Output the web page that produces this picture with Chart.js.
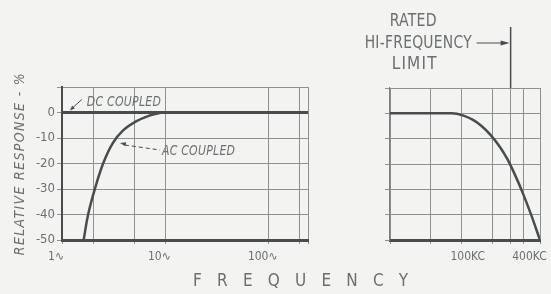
<!DOCTYPE html>
<html><head><meta charset="utf-8">
<script src="https://cdn.jsdelivr.net/npm/chart.js@4.4.1/dist/chart.umd.min.js"></script>
<style>
html,body{margin:0;padding:0;background:#f3f4f1;}
#wrap{position:relative;width:551px;height:294px;overflow:hidden;background:#f3f4f1;}
#c1{position:absolute;left:0;top:0;}
#c2{position:absolute;left:330px;top:0;}
</style></head><body>
<div id="wrap"><canvas id="c1" width="551" height="294"></canvas><canvas id="c2" width="221" height="294"></canvas></div>
<script>
// ---------- data ----------
const yTickValues = [-50, -40, -30, -20, -10, 0, 10];
const yTickLabels = ['-50', '-40', '-30', '-20', '-10', '0', ''];

const lowTickValues = [1, 2, 5, 10, 100, 200, 240];
const lowTickLabels = ['1∿', '', '', '10∿', '100∿', '', ''];

const dcFreq = [1, 240];
const dcResponse = [0, 0];

const acFreq = [1.62, 1.79, 2.08, 2.5, 3.1, 3.9, 5.2, 7.0, 9.0, 10];
const acResponse = [-50, -40, -30, -20, -12, -7, -3.5, -1.2, -0.1, 0];

const hiTickValues = [20, 50, 100, 200, 300, 400, 580];
const hiTickLabels = ['', '', '100KC', '', '', '400KC', ''];

const hfFreqKc = [20, 50, 80, 104, 129, 155, 190, 235, 280, 330, 390, 475, 580];
const hfResponse = [0, 0, 0, -0.9, -2.6, -4.9, -8.4, -13.2, -18.2, -24.2, -31, -40, -50];

const ratedLimitKc = 300;

const yTitle = 'RELATIVE RESPONSE - %';
const xTitle = 'FREQUENCY';
const dcLabel = 'DC COUPLED';
const acLabel = 'AC COUPLED';
const ratedLines = ['RATED', 'HI-FREQUENCY', 'LIMIT'];

// ---------- styles ----------
const FAM = '"Liberation Sans Narrow", "DejaVu Sans Condensed", "Roboto Condensed", sans-serif';
const DARK = '#474d4c';
const GRID = '#8c9290';
const TXT = '#6a706f';

function pts(xs, ys){ return xs.map((x,i)=>({x:x, y:ys[i]})); }

function spacedText(ctx, text, left, cy, width, font, color){
  ctx.save();
  ctx.font = font; ctx.fillStyle = color; ctx.textBaseline = 'middle'; ctx.textAlign = 'left';
  const n = [...text].length;
  const nat = ctx.measureText(text).width;
  let gap = n > 1 ? (width - nat)/(n-1) : 0;
  let sx = 1;
  if (gap < 0.3){ gap = 0.3; sx = width/(nat + gap*(n-1)); }
  ctx.translate(left, cy); ctx.scale(sx, 1);
  if ('letterSpacing' in ctx){ ctx.letterSpacing = gap + 'px'; ctx.fillText(text, 0, 0); }
  else { let xx = 0; for (const ch of text){ ctx.fillText(ch, xx, 0); xx += ctx.measureText(ch).width + gap; } }
  ctx.restore();
}

function arrowHead(ctx, tx, ty, fx, fy, len, half, color){
  const a = Math.atan2(ty-fy, tx-fx);
  ctx.save(); ctx.fillStyle = color; ctx.beginPath();
  ctx.moveTo(tx, ty);
  ctx.lineTo(tx - len*Math.cos(a) + half*Math.sin(a), ty - len*Math.sin(a) - half*Math.cos(a));
  ctx.lineTo(tx - len*Math.cos(a) - half*Math.sin(a), ty - len*Math.sin(a) + half*Math.cos(a));
  ctx.closePath(); ctx.fill(); ctx.restore();
}

function yScale(showLabels, borderW, borderC){
  return {
    type: 'linear', min: -50, max: 10,
    afterBuildTicks: s => { s.ticks = yTickValues.map(v => ({value: v})); },
    afterFit: s => { s.width = showLabels ? 62 : 60; },
    ticks: { padding: 2, color: TXT, font: {family: FAM, size: 13},
             callback: (v, i) => showLabels ? yTickLabels[i] : '' },
    grid: { color: GRID, lineWidth: 1, tickLength: 5 },
    border: { display: true, color: borderC, width: borderW }
  };
}

// ---------- chart 1 (low frequency) ----------
const annot1 = {
  id: 'annot1',
  afterDraw(chart){
    const ctx = chart.ctx, xs = chart.scales.x, ys = chart.scales.y;
    // DC coupled
    const dpx = xs.getPixelForValue(1.19), dpy = ys.getPixelForValue(0);
    ctx.save(); ctx.strokeStyle = DARK; ctx.lineWidth = 1;
    ctx.beginPath(); ctx.moveTo(dpx + 12, dpy - 13); ctx.lineTo(dpx + 2, dpy - 4); ctx.stroke(); ctx.restore();
    arrowHead(ctx, dpx, dpy - 2, dpx + 12, dpy - 13, 5, 2, DARK);
    spacedText(ctx, dcLabel, dpx + 17, dpy - 10, 74, 'italic 14px ' + FAM, TXT);
    // AC coupled (anchored at the -10 % point of the curve)
    const apx = xs.getPixelForValue(3.4), apy = ys.getPixelForValue(-10);
    ctx.save(); ctx.strokeStyle = DARK; ctx.lineWidth = 1; ctx.setLineDash([4, 3]);
    ctx.beginPath(); ctx.moveTo(apx + 8, apy + 7); ctx.lineTo(apx + 43, apy + 12); ctx.stroke(); ctx.restore();
    arrowHead(ctx, apx + 3, apy + 5, apx + 12, apy + 7, 6, 2, DARK);
    spacedText(ctx, acLabel, apx + 45, apy + 13, 73, 'italic 14px ' + FAM, TXT);
    // FREQUENCY
    spacedText(ctx, xTitle, 193, 282, 215, '17px ' + FAM, TXT);
  }
};

const titleSpacing = {
  id: 'titleSpacing',
  beforeDraw(chart){
    const s = chart.scales.y;
    if (!s || s._spacedWrapped) return;
    s._spacedWrapped = true;
    const orig = s.drawTitle;
    s.drawTitle = function(){
      const c = this.ctx; c.save();
      c.font = 'italic 14px ' + FAM;
      const nat = c.measureText(yTitle).width;
      if ('letterSpacing' in c) c.letterSpacing = Math.max(0, (182 - nat)/(yTitle.length - 1)) + 'px';
      orig.call(this); c.restore();
    };
  }
};

new Chart(document.getElementById('c1'), {
  type: 'line',
  data: { datasets: [
    { label: 'DC coupled', data: pts(dcFreq, dcResponse), borderColor: DARK, borderWidth: 3, pointRadius: 0, tension: 0 },
    { label: 'AC coupled', data: pts(acFreq, acResponse), borderColor: DARK, borderWidth: 2.5, pointRadius: 0, tension: 0.4 }
  ]},
  options: {
    responsive: false, animation: false, devicePixelRatio: 1,
    layout: { padding: { left: 0, top: 87, right: 243, bottom: 0 } },
    plugins: { legend: { display: false }, tooltip: { enabled: false } },
    scales: {
      x: {
        type: 'logarithmic', min: 1, max: 240,
        afterBuildTicks: s => { s.ticks = lowTickValues.map(v => ({value: v})); },
        afterFit: s => { s.height = 54; },
        ticks: { autoSkip: false, maxRotation: 0, minRotation: 0, padding: 6, labelOffset: -6,
                 color: TXT, font: {family: FAM, size: 12}, callback: (v, i) => lowTickLabels[i] },
        grid: { color: GRID, lineWidth: 1, tickLength: 4 },
        border: { display: true, color: DARK, width: 3 }
      },
      y: Object.assign(yScale(true, 2, DARK), {
        title: { display: true, text: yTitle, color: TXT,
                 font: { family: FAM, size: 14, style: 'italic' }, padding: { top: 12, bottom: 0 } }
      })
    }
  },
  plugins: [annot1, titleSpacing]
});

// ---------- chart 2 (high frequency) ----------
const annot2 = {
  id: 'annot2',
  afterDraw(chart){
    const ctx = chart.ctx, xs = chart.scales.x;
    const xr = xs.getPixelForValue(ratedLimitKc);
    const top = chart.chartArea.top;
    ctx.save(); ctx.strokeStyle = DARK; ctx.lineWidth = 1.5;
    ctx.beginPath(); ctx.moveTo(xr, 27); ctx.lineTo(xr, top); ctx.stroke();
    ctx.lineWidth = 1;
    ctx.beginPath(); ctx.moveTo(xr - 34, 43); ctx.lineTo(xr - 6, 43); ctx.stroke();
    ctx.restore();
    arrowHead(ctx, xr - 1, 43, xr - 20, 43, 9, 2.5, DARK);
    const f = '17px ' + FAM;
    spacedText(ctx, ratedLines[0], xr - 121, 21.5, 47, f, TXT);
    spacedText(ctx, ratedLines[1], xr - 146, 43.5, 107, f, TXT);
    spacedText(ctx, ratedLines[2], xr - 119, 65, 45, f, TXT);
  }
};

new Chart(document.getElementById('c2'), {
  type: 'line',
  data: { datasets: [
    { label: 'Response', data: pts(hfFreqKc, hfResponse), borderColor: DARK, borderWidth: 2.5, pointRadius: 0, cubicInterpolationMode: 'monotone' }
  ]},
  options: {
    responsive: false, animation: false, devicePixelRatio: 1,
    layout: { padding: { left: 0, top: 88, right: 11, bottom: 0 } },
    plugins: { legend: { display: false }, tooltip: { enabled: false } },
    scales: {
      x: {
        type: 'logarithmic', min: 20, max: 580,
        afterBuildTicks: s => { s.ticks = hiTickValues.map(v => ({value: v})); },
        afterFit: s => { s.height = 54; },
        ticks: { autoSkip: false, maxRotation: 0, minRotation: 0, padding: 6, labelOffset: 6,
                 color: TXT, font: {family: FAM, size: 12}, callback: (v, i) => hiTickLabels[i] },
        grid: { color: GRID, lineWidth: 1, tickLength: 4 },
        border: { display: true, color: DARK, width: 3 }
      },
      y: yScale(false, 1.2, '#7a807e')
    }
  },
  plugins: [annot2]
});
</script>
</body></html>
